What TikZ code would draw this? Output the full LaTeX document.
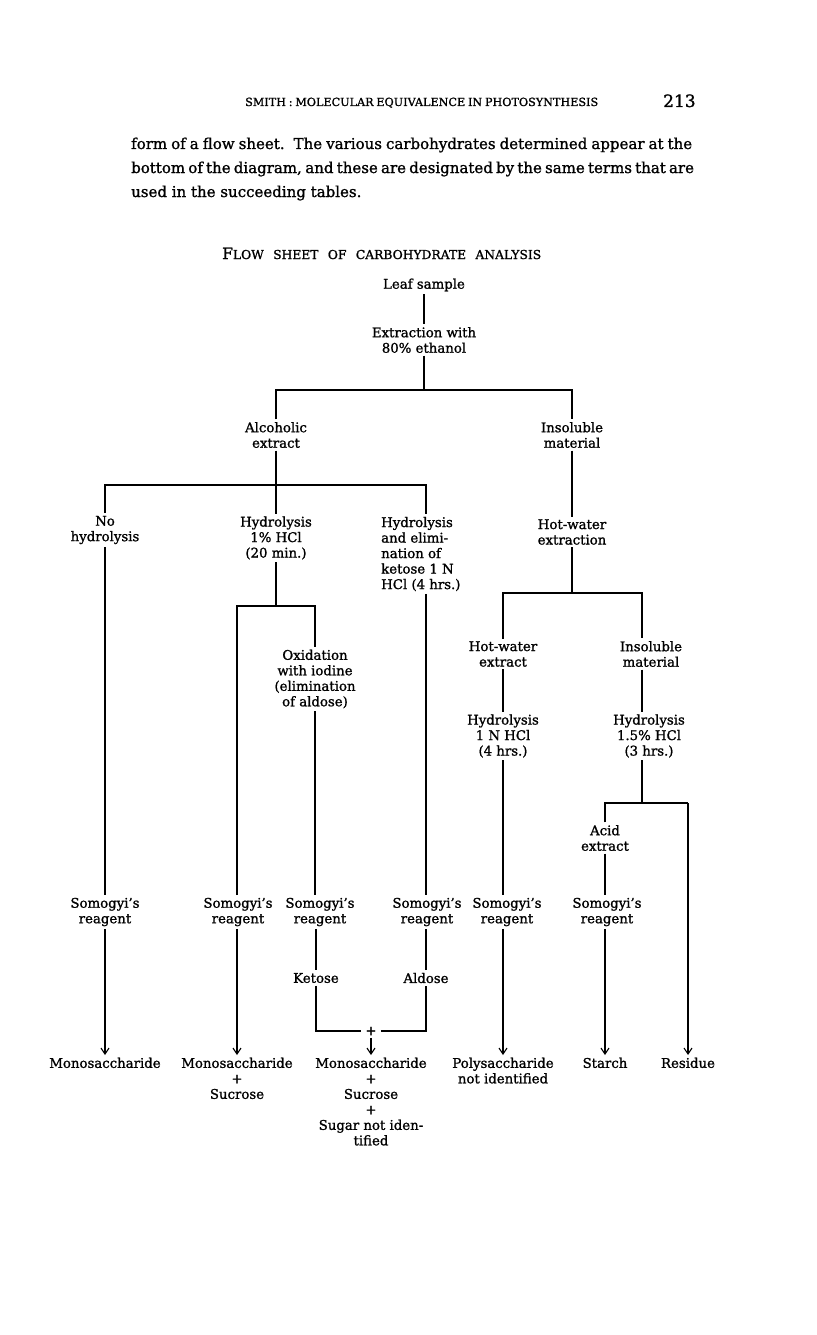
\documentclass[tikz,border=0pt]{standalone}
\usepackage{fontspec}
\setmainfont{DejaVu Serif}[FakeBold=1.2]
\usetikzlibrary{arrows.meta}
\begin{document}
\begin{tikzpicture}[x=1pt,y=-1pt,
  lbl/.style={align=center,inner xsep=0pt,inner ysep=2.5pt,font=\fontsize{13.3}{15.5}\selectfont},
  res/.style={lbl,anchor=north},
  txt/.style={inner sep=0pt,anchor=base west},
  ln/.style={line width=1.1pt},
  arr/.style={line width=1.1pt,-{Straight Barb[length=6pt,width=8pt,line width=1.1pt]}}]
\path[use as bounding box, fill=white] (0,0) rectangle (816,1335);

% page text
\node[txt,font=\fontsize{11.2}{12}\selectfont] (head) at (245,106) {\makebox[353pt][s]{SMITH : MOLECULAR EQUIVALENCE IN PHOTOSYNTHESIS}};
\node[txt,font=\fontsize{17}{18}\selectfont] (page) at (663,107) {213};
\node[txt,font=\fontsize{15}{18}\selectfont] (p1) at (131,149) {\makebox[561pt][s]{form of a flow sheet.\hskip 0.6em The various carbohydrates determined appear at the}};
\node[txt,font=\fontsize{15}{18}\selectfont] (p2) at (131,173) {\makebox[561pt][s]{bottom of the diagram, and these are designated by the same terms that are}};
\node[txt,font=\fontsize{15}{18}\selectfont] (p3) at (131,197) {used in the succeeding tables.};
\node[txt] (title) at (222,259) {\makebox[319pt][s]{\fontsize{15.5}{16}\selectfont F\fontsize{12.3}{12}\selectfont LOW SHEET OF CARBOHYDRATE ANALYSIS}};

% nodes
\node[lbl] (leaf) at (424,285) {Leaf sample};
\node[lbl] (extr) at (424,340) {Extraction with\\80\% ethanol};
\node[lbl] (alc) at (276,435) {Alcoholic\\extract};
\node[lbl] (insol) at (572,435) {Insoluble\\material};
\node[lbl] (nohyd) at (105,530) {No\\hydrolysis};
\node[lbl] (hyd1) at (276,538) {Hydrolysis\\1\% HCl\\(20 min.)};
\node[lbl,align=left,anchor=west] (hyd2) at (381,554) {Hydrolysis\\and elimi-\\nation of\\ketose 1 N\\HCl (4 hrs.)};
\node[lbl] (hwext) at (572,532) {Hot-water\\extraction};
\node[lbl] (oxid) at (315,679) {Oxidation\\with iodine\\(elimination\\of aldose)};
\node[lbl] (hwx) at (503,654) {Hot-water\\extract};
\node[lbl] (insol2) at (651,654) {Insoluble\\material};
\node[lbl] (hyd3) at (503,736) {Hydrolysis\\1 N HCl\\(4 hrs.)};
\node[lbl] (hyd4) at (649,736) {Hydrolysis\\1.5\% HCl\\(3 hrs.)};
\node[lbl] (acid) at (605,838) {Acid\\extract};
\node[lbl] (som1) at (105,912) {Somogyi’s\\reagent};
\node[lbl] (som2) at (238,912) {Somogyi’s\\reagent};
\node[lbl] (som3) at (320,912) {Somogyi’s\\reagent};
\node[lbl] (som4) at (427,912) {Somogyi’s\\reagent};
\node[lbl] (som5) at (507,912) {Somogyi’s\\reagent};
\node[lbl] (som6) at (607,912) {Somogyi’s\\reagent};
\node[lbl] (ket) at (316,978) {Ketose};
\node[lbl] (ald) at (426,978) {Aldose};
\node[lbl,inner xsep=4pt] (plus) at (371,1031) {+};
\node[res] (r1) at (105,1055) {Monosaccharide};
\node[res] (r2) at (237,1055) {Monosaccharide\\+\\Sucrose};
\node[res] (r3) at (371,1055) {Monosaccharide\\+\\Sucrose\\+\\Sugar not iden-\\tified};
\node[res] (r4) at (503,1055) {Polysaccharide\\not identified};
\node[res] (r5) at (605,1055) {Starch};
\node[res] (r6) at (688,1055) {Residue};

% junctions
\coordinate (j1) at (424,390);
\coordinate (j2) at (276,485);
\coordinate (j3) at (276,606);
\coordinate (j4) at (572,593);
\coordinate (rj) at (642,593);
\coordinate (j5) at (642,803);
\coordinate (c2) at (237,0);
\coordinate (c4) at (426,0);
\coordinate (c5) at (503,0);
\coordinate (c6) at (605,0);

% connectors
\draw[ln] (leaf.south) -- (extr.north);
\draw[ln] (extr.south) -- (j1);
\draw[ln] (alc.north) -- (alc.north |- j1) -- (insol.north |- j1) -- (insol.north);
\draw[ln] (alc.south) -- (hyd1.north);
\draw[ln] (nohyd.north) -- (nohyd.north |- j2) -- (c4 |- j2) -- (c4 |- hyd2.north);
\draw[ln] (nohyd.south) -- (som1.north);
\draw[arr] (som1.south) -- (r1.north);
\draw[ln] (hyd1.south) -- (j3);
\draw[ln] (c2 |- som2.north) -- (c2 |- j3) -- (oxid.north |- j3) -- (oxid.north);
\draw[arr] (c2 |- som2.south) -- (r2.north);
\draw[ln] (oxid.south) -- (oxid.south |- som3.north);
\draw[ln] (ket.north |- som3.south) -- (ket.north);
\draw[ln] (ket.south) -- (ket.south |- plus) -- (plus.west);
\draw[ln] (plus.east) -- (plus -| ald) -- (ald.south);
\draw[ln] (c4 |- hyd2.south) -- (c4 |- som4.north);
\draw[ln] (ald.north) -- (ald.north |- som4.south);
\draw[arr] (plus.south) -- (r3.north);
\draw[ln] (insol.south) -- (hwext.north);
\draw[ln] (hwext.south) -- (j4);
\draw[ln] (hwx.north) -- (hwx.north |- j4) -- (rj) -- (rj |- insol2.north);
\draw[ln] (hwx.south) -- (hyd3.north);
\draw[ln] (rj |- insol2.south) -- (rj |- hyd4.north);
\draw[ln] (hyd3.south) -- (c5 |- som5.north);
\draw[arr] (c5 |- som5.south) -- (r4.north);
\draw[ln] (rj |- hyd4.south) -- (j5);
\draw[ln] (acid.north) -- (acid.north |- j5) -- (r6 |- j5);
\draw[arr] (r6 |- j5) -- (r6.north);
\draw[ln] (acid.south) -- (c6 |- som6.north);
\draw[arr] (c6 |- som6.south) -- (r5.north);
\end{tikzpicture}
\end{document}
